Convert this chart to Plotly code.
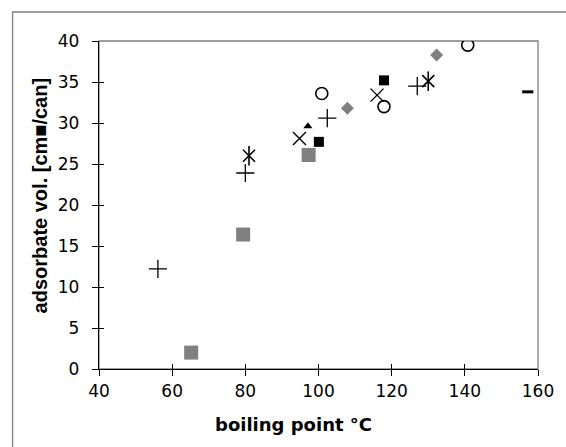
import plotly.graph_objects as go

# data (boiling point °C, adsorbate volume)
gray_sq_x = [65.2, 79.4, 97.3]
gray_sq_y = [2.0, 16.4, 26.1]
plus_x = [56.1, 80.0, 102.4, 127.0]
plus_y = [12.2, 23.9, 30.6, 34.5]
star_x = [81.0, 130.0]
star_y = [26.0, 35.1]
xmark_x = [94.8, 116.0]
xmark_y = [28.1, 33.4]
tri_x = [97.1]
tri_y = [29.6]
blk_sq_x = [100.1, 117.9]
blk_sq_y = [27.7, 35.2]
circ_x = [100.9, 117.9, 140.8]
circ_y = [33.6, 32.0, 39.5]
diam_x = [107.9, 132.3]
diam_y = [31.8, 38.3]
dash_x = [157.2]
dash_y = [33.8]

x_ticks = [40, 60, 80, 100, 120, 140, 160]
y_ticks = [0, 5, 10, 15, 20, 25, 30, 35, 40]

fig = go.Figure()

def add(x, y, symbol, size, color, lw=1.2, lc=None):
    fig.add_trace(go.Scatter(
        x=x, y=y, mode="markers", showlegend=False, hoverinfo="skip",
        marker=dict(symbol=symbol, size=size, color=color,
                    line=dict(width=lw, color=lc if lc else color))))

add(gray_sq_x, gray_sq_y, "square", 14, "#808080", 0)
add(plus_x, plus_y, "cross-thin-open", 13, "black", 1.3)
add(star_x, star_y, "x-thin-open", 12, "black", 1.6)
add(star_x, star_y, "line-ns-open", 14, "black", 1.6)
add(xmark_x, xmark_y, "x-thin-open", 13, "black", 1.4)
add(tri_x, tri_y, "triangle-up", 8, "black", 0)
add(blk_sq_x, blk_sq_y, "square", 10, "black", 0)
add(circ_x, circ_y, "circle-open", 12, "black", 1.6)
add(diam_x, diam_y, "diamond", 10, "#808080", 0)
add(dash_x, dash_y, "line-ew-open", 8, "black", 3)

# overlay axes carrying the inside half of the crossing ticks
fig.add_trace(go.Scatter(x=[], y=[], xaxis="x2", yaxis="y2", showlegend=False))

tick_font = dict(family="DejaVu Sans", size=17, color="black")
axis_common = dict(showgrid=False, zeroline=False, showline=True, linecolor="black",
                   linewidth=1.3, ticks="outside", ticklen=6, tickwidth=1,
                   tickcolor="black", tickfont=tick_font)

fig.update_layout(
    width=566, height=447,
    margin=dict(l=99, r=25, t=41, b=78),
    paper_bgcolor="white", plot_bgcolor="white",
    xaxis=dict(range=[40, 160], tickvals=x_ticks, **axis_common),
    yaxis=dict(range=[0, 40], tickvals=y_ticks, ticklabelstandoff=9, **axis_common),
    xaxis2=dict(range=[40, 160], tickvals=x_ticks, overlaying="x", anchor="y2",
                showticklabels=False, showgrid=False, zeroline=False, showline=False,
                ticks="inside", ticklen=5, tickcolor="black", tickwidth=1),
    yaxis2=dict(range=[0, 40], tickvals=y_ticks, overlaying="y", anchor="x2",
                showticklabels=False, showgrid=False, zeroline=False, showline=False,
                ticks="inside", ticklen=5, tickcolor="black", tickwidth=1),
    shapes=[
        dict(type="rect", xref="paper", yref="paper", x0=0, x1=1, y0=0, y1=1,
             line=dict(color="#808080", width=1.3), layer="below"),
        dict(type="rect", xref="paper", yref="paper",
             x0=(12 - 99) / 442, x1=(580 - 99) / 442,
             y0=(369 - 460) / 328, y1=1 + (41 - 12) / 328,
             line=dict(color="#808080", width=1.3), layer="below"),
    ],
    annotations=[
        dict(text="boiling point °C", xref="paper", yref="paper",
             x=(295 - 99) / 442, y=(369 - 424) / 328, xanchor="center", yanchor="middle",
             showarrow=False,
             font=dict(family="DejaVu Sans", size=18, color="black", weight="bold")),
        dict(text="adsorbate vol. [cm■/can]", xref="paper", yref="paper",
             x=(40 - 99) / 442, y=(369 - 196) / 328, xanchor="center", yanchor="middle",
             textangle=-90, showarrow=False,
             font=dict(family="Liberation Sans", size=20, color="black", weight="bold")),
    ],
)

fig.write_html("out.html")
